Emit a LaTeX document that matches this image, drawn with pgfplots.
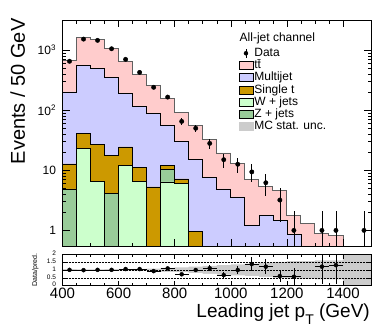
\documentclass[border=0pt]{standalone}
\usepackage{fontspec}
\setmainfont{Liberation Sans}
\usepackage{pgfplots}
\usepackage{pgfplotstable}
\pgfplotsset{compat=1.18}
\definecolor{ttbar}{HTML}{FFCCCC}
\definecolor{multijet}{HTML}{CCCCFF}
\definecolor{singlet}{HTML}{CC9900}
\definecolor{wjets}{HTML}{CCFFCC}
\definecolor{zjets}{HTML}{99CC99}
\definecolor{mcunc}{HTML}{CCCCCC}

% cumulative stack heights per 50 GeV bin (low edge), last row closes the step
\pgfplotstableread{
lo   w     wz    st    mj    tt
400  0.01  4.9   12.8  202   680
450  23    23    41    548   1600
500  6.5   6.5   26.8  495   1520
550  0.01  4.1   17.7  346   1070
600  12.1  12.1  24.5  192   655
650  6.5   6.5   11.1  114   394
700  0.01  0.01  5.3   87    262
750  6.4   10.4  12.1  55    157
800  6.0   6.0   7.2   30    90
850  0.01  0.01  0.96  15    55
900  0.01  0.01  0.01  7.7   33
950  0.01  0.01  0.01  4.9   19.4
1000 0.01  0.01  0.01  3.6   13.2
1050 0.01  0.01  0.01  1.2   7.0
1100 0.01  0.01  0.01  1.78  5.3
1150 0.01  0.01  0.01  1.47  4.6
1200 0.01  0.01  0.01  0.86  1.78
1250 0.01  0.01  0.01  0.01  1.29
1300 0.01  0.01  0.01  0.01  0.9
1350 0.01  0.01  0.01  0.01  0.82
1400 0.01  0.01  0.01  0.01  0.01
1450 0.01  0.01  0.01  0.01  0.01
1500 0.01  0.01  0.01  0.01  0.01
}\stack

\pgfplotstableread{
x    y     ep    em
425  650   25    25
475  1520  39    39
525  1450  38    38
575  1050  32    32
625  700   26    26
675  425   21    21
725  240   15    15
775  165   13    13
825  65    8     8
875  50    7     7
925  28    5.3   5.3
975  15    3.9   3.9
1025 12.6  3.5   3.5
1075 9.4   3.1   3.1
1125 6.2   2.5   2.5
1175 3.2   1.8   1.8
1225 1     1.07  0.97
1325 1     1.07  0.97
1375 1     1.07  0.97
1475 1     1.07  0.97
}\data

\pgfplotstableread{
x    r     e
425  1.00  0.03
475  0.98  0.03
525  1.00  0.03
575  1.00  0.03
625  1.05  0.04
675  1.05  0.05
725  0.92  0.06
775  1.09  0.09
825  0.72  0.09
875  0.99  0.14
925  1.10  0.20
975  0.67  0.17
1025 0.99  0.28
1075 1.37  0.45
1125 1.20  0.48
1175 0.61  0.35
1225 0.56  0.56
1325 1.20  1.10
1375 1.30  1.20
}\ratio

\pgfplotstableread{
lo   up    dn
400  1.04  0.96
450  1.03  0.97
500  1.03  0.97
550  1.04  0.96
600  1.05  0.95
650  1.06  0.94
700  1.08  0.92
750  1.12  0.88
800  1.15  0.85
850  1.20  0.80
900  1.25  0.75
950  1.30  0.70
1000 1.35  0.65
1050 1.40  0.60
1100 1.45  0.55
1150 1.50  0.50
1200 1.55  0.45
1250 1.55  0.45
1300 1.60  0.40
1350 1.60  0.40
1400 2.20  0
1450 2.20  0
1500 2.20  0
}\band

\pgfplotsset{
  boxleg/.style={legend image code/.code={\draw[##1] (0pt,-4pt) rectangle (14pt,4pt);}},
  histo/.style={const plot, draw=black, line width=0.6pt, forget plot},
}

\begin{document}
\begin{tikzpicture}
\useasboundingbox (-62.5pt,-83pt) rectangle (327.5pt,246pt);
\begin{axis}[
  name=main, at={(0pt,0pt)}, anchor=south west,
  scale only axis, width=308.5pt, height=226pt,
  xmin=400, xmax=1500, ymode=log, ymin=0.55, ymax=3160,
  log origin y=infty,
  xtick={400,600,...,1400}, xticklabels={}, minor x tick num=3,
  ytick={1,10,100,1000},
  yticklabels={1,10,10\textsuperscript{2},10\textsuperscript{3}},
  yticklabel style={font=\fontsize{12}{12}\selectfont, xshift=-3pt},
  tick align=inside, major tick length=7pt, minor tick length=3.5pt,
  tick style={black, line width=0.5pt},
  axis line style={black, line width=0.7pt},
  axis on top,
  ylabel={Events / 50 GeV},
  ylabel style={font=\fontsize{20}{20}\selectfont, at={(axis description cs:-0.1216,1.022)}, anchor=base east},
  legend style={at={(rel axis cs:0.561,0.888)}, anchor=north west, draw=none, fill=none,
    font=\fontsize{12}{12}\selectfont, row sep=0.7pt,
    nodes={inner xsep=1.2pt, inner ysep=0pt, text height=9pt, text depth=2.5pt}},
  legend cell align=left,
]
\addplot[histo, fill=ttbar, draw=gray!75!black, line width=0.9pt] table[x=lo, y=tt] {\stack} \closedcycle;
\addplot[histo, fill=multijet] table[x=lo, y=mj] {\stack} \closedcycle;
\addplot[histo, fill=singlet] table[x=lo, y=st] {\stack} \closedcycle;
\addplot[histo, fill=zjets] table[x=lo, y=wz] {\stack} \closedcycle;
\addplot[histo, fill=wjets] table[x=lo, y=w] {\stack} \closedcycle;
\addplot[only marks, mark=*, mark size=2.2pt, black, forget plot,
  error bars/.cd, y dir=both, y explicit, error mark=none,
  error bar style={line width=0.7pt}]
  table[x=x, y=y, y error plus=ep, y error minus=em] {\data};

\addlegendimage{legend image code/.code={\draw[black, line width=0.7pt] (7pt,-4.5pt)--(7pt,4.5pt); \fill[black] (7pt,0pt) circle (2pt);}}
\addlegendentry{Data}
\addlegendimage{boxleg, fill=ttbar, draw=black}
\addlegendentry{t\={t}}
\addlegendimage{boxleg, fill=multijet, draw=black}
\addlegendentry{Multijet}
\addlegendimage{boxleg, fill=singlet, draw=black}
\addlegendentry{Single t}
\addlegendimage{boxleg, fill=wjets, draw=black}
\addlegendentry{W + jets}
\addlegendimage{boxleg, fill=zjets, draw=black}
\addlegendentry{Z + jets}
\addlegendimage{legend image code/.code={\fill[mcunc] (0pt,-4pt) rectangle (14pt,4pt);}}
\addlegendentry{MC stat. unc.}

\node[anchor=base west, font=\fontsize{12}{12}\selectfont] at (rel axis cs:0.563,0.903) {All-jet channel};
\node[anchor=base west, font=\fontsize{14}{14}\selectfont\bfseries] at (rel axis cs:0.0,1.018) {CMS};
\node[anchor=base east, font=\fontsize{10.5}{10.5}\selectfont] at (rel axis cs:0.997,1.016) {35.9 fb\textsuperscript{-1} (13 TeV)};
\end{axis}

\begin{axis}[
  at={(0pt,-8pt)}, anchor=north west,
  scale only axis, width=308.5pt, height=31.7pt,
  xmin=400, xmax=1500, ymin=0, ymax=2,
  xtick={400,600,...,1400}, xticklabels={400,600,800,1000,1200,1400},
  minor x tick num=3,
  xticklabel style={font=\fontsize{15}{15}\selectfont, inner ysep=0pt, yshift=-1.8pt},
  ytick={0,0.5,1,1.5,2}, yticklabels={\raisebox{1.6pt}{0},0.5,1,1.5,2},
  yticklabel style={font=\fontsize{6.5}{6.5}\selectfont, inner ysep=0pt, xshift=-3pt, yshift=0.8pt},
  tick align=inside, major tick length=5pt, minor tick length=2.5pt,
  tick style={black, line width=0.5pt},
  axis line style={black, line width=0.7pt},
  axis on top,
  ylabel={Data/pred.},
  ylabel style={font=\fontsize{7}{7}\selectfont, at={(axis description cs:-0.082,0.5)}, anchor=base},
  xlabel={Leading jet p\raisebox{-0.4em}{\fontsize{14}{14}\selectfont T} (GeV)},
  xlabel style={font=\fontsize{19}{19}\selectfont, inner sep=0pt, at={(axis description cs:0.9968,-0.99)}, anchor=base east},
]
\addplot[const plot, fill=mcunc, draw=none] table[x=lo, y=up] {\band} \closedcycle;
\addplot[const plot, fill=white, draw=none] table[x=lo, y=dn] {\band} \closedcycle;
\addplot[densely dotted, black, line width=0.5pt] coordinates {(400,0.5) (1500,0.5)};
\addplot[densely dotted, black, line width=0.5pt] coordinates {(400,1) (1500,1)};
\addplot[densely dotted, black, line width=0.5pt] coordinates {(400,1.5) (1500,1.5)};
\addplot[only marks, mark=*, mark size=2pt, black,
  error bars/.cd, y dir=both, y explicit, x dir=both, x fixed=25, error mark=none,
  error bar style={line width=0.7pt}]
  table[x=x, y=r, y error=e] {\ratio};
\end{axis}
\end{tikzpicture}
\end{document}
